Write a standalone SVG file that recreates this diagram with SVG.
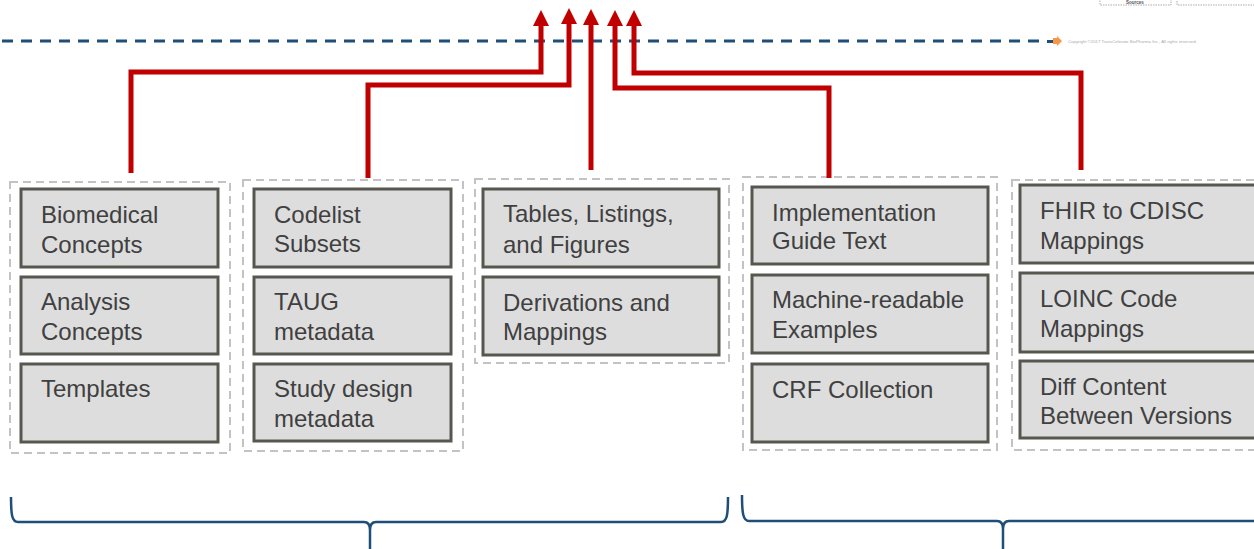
<svg xmlns="http://www.w3.org/2000/svg" width="1254" height="549" viewBox="0 0 1254 549">
<defs>
<style>
.grp{fill:none;stroke:#c3c3c3;stroke-width:2;stroke-dasharray:8 5}
.node rect{fill:#dddddd;stroke:#57574f;stroke-width:3}
.node text{font-family:"Liberation Sans",Arial,sans-serif;font-size:24px;fill:#404040}
.conn{fill:none;stroke:#c00000;stroke-width:5}
.brace{fill:none;stroke:#1f4e79;stroke-width:2.5}
</style>
<marker id="ah" markerWidth="16" markerHeight="16" viewBox="0 0 16 16" refX="1" refY="8" orient="auto" markerUnits="userSpaceOnUse">
<path d="M0,0 L16,8 L0,16 Z" fill="#c00000"/>
</marker>
</defs>
<rect width="1254" height="549" fill="#ffffff"/>
<g id="topright">
<rect x="1100" y="-20" width="71" height="25" fill="none" stroke="#aaaaaa" stroke-width="1" stroke-dasharray="1.5 1"/>
<text x="1135" y="4" font-family="Liberation Sans,Arial,sans-serif" font-size="4.5" font-weight="bold" fill="#555" text-anchor="middle">Sources</text>
<rect x="1177" y="-20" width="90" height="25" fill="none" stroke="#aaaaaa" stroke-width="1" stroke-dasharray="1.5 1"/>
</g>
<g id="timeline">
<line x1="2" y1="41" x2="1046" y2="41" stroke="#1f4e79" stroke-width="3" stroke-dasharray="11 8"/>
<rect x="1047" y="40" width="6" height="3" fill="#1f4e79"/>
<polygon points="1053,38 1057,38 1057,36 1062,41 1057,46 1057,44 1053,44" fill="#f79646"/>
<text x="1068" y="42.5" font-family="Liberation Sans,Arial,sans-serif" font-size="4.3" fill="#aaaaaa">Copyright ©2017 TransCelerate BioPharma Inc., All rights reserved.</text>
</g>
<g id="containers">
<rect class="grp" x="10" y="182" width="220" height="271"/>
<rect class="grp" x="243" y="180" width="220" height="271"/>
<rect class="grp" x="475" y="179" width="254" height="184"/>
<rect class="grp" x="743" y="177" width="254" height="273"/>
<rect class="grp" x="1012" y="180" width="260" height="270"/>
</g>
<g id="connectors">
<polyline class="conn" points="131,173 131,72 541,72 541,25" marker-end="url(#ah)"/>
<polyline class="conn" points="368,178 368,85 569,85 569,23" marker-end="url(#ah)"/>
<polyline class="conn" points="591,170 591,24" marker-end="url(#ah)"/>
<polyline class="conn" points="829,178 829,88 615,88 615,25" marker-end="url(#ah)"/>
<polyline class="conn" points="1081,170 1081,73 634,73 634,25" marker-end="url(#ah)"/>
</g>
<g id="n-biomedical" class="node"><rect x="21" y="189" width="197" height="78"/><text x="41" y="223">Biomedical</text><text x="41" y="253">Concepts</text></g>
<g id="n-analysis" class="node"><rect x="21" y="277" width="197" height="77"/><text x="41" y="310">Analysis</text><text x="41" y="340">Concepts</text></g>
<g id="n-templates" class="node"><rect x="21" y="364" width="197" height="78"/><text x="41" y="397">Templates</text></g>
<g id="n-codelist" class="node"><rect x="254" y="189" width="197" height="78"/><text x="274" y="223">Codelist</text><text x="274" y="252">Subsets</text></g>
<g id="n-taug" class="node"><rect x="254" y="277" width="197" height="77"/><text x="274" y="310">TAUG</text><text x="274" y="340">metadata</text></g>
<g id="n-study" class="node"><rect x="254" y="364" width="197" height="77"/><text x="274" y="397">Study design</text><text x="274" y="427">metadata</text></g>
<g id="n-tlf" class="node"><rect x="483" y="189" width="236" height="78"/><text x="503" y="222">Tables, Listings,</text><text x="503" y="253">and Figures</text></g>
<g id="n-deriv" class="node"><rect x="483" y="277" width="236" height="78"/><text x="503" y="311">Derivations and</text><text x="503" y="340">Mappings</text></g>
<g id="n-impl" class="node"><rect x="752" y="187" width="236" height="77"/><text x="772" y="221">Implementation</text><text x="772" y="249">Guide Text</text></g>
<g id="n-machine" class="node"><rect x="752" y="275" width="236" height="78"/><text x="772" y="308">Machine-readable</text><text x="772" y="338">Examples</text></g>
<g id="n-crf" class="node"><rect x="752" y="364" width="236" height="78"/><text x="772" y="398">CRF Collection</text></g>
<g id="n-fhir" class="node"><rect x="1020" y="185" width="250" height="78"/><text x="1040" y="219">FHIR to CDISC</text><text x="1040" y="249">Mappings</text></g>
<g id="n-loinc" class="node"><rect x="1020" y="273" width="250" height="79"/><text x="1040" y="307">LOINC Code</text><text x="1040" y="337">Mappings</text></g>
<g id="n-diff" class="node"><rect x="1020" y="361" width="250" height="77"/><text x="1040" y="395">Diff Content</text><text x="1040" y="424">Between Versions</text></g>
<g id="braces">
<path class="brace" d="M11,497 C11,515 12,522 18,522 L364,522 C368,522 370,524 370,530 L370,549 M370,530 C370,524 372,522 376,522 L721,522 C727,522 728,515 728,497"/>
<path class="brace" d="M742,495 C742,513 743,521 749,521 L997,521 C1001,521 1003,523 1003,529 L1003,549 M1003,529 C1003,523 1005,521 1009,521 L1260,521"/>
</g>
</svg>
